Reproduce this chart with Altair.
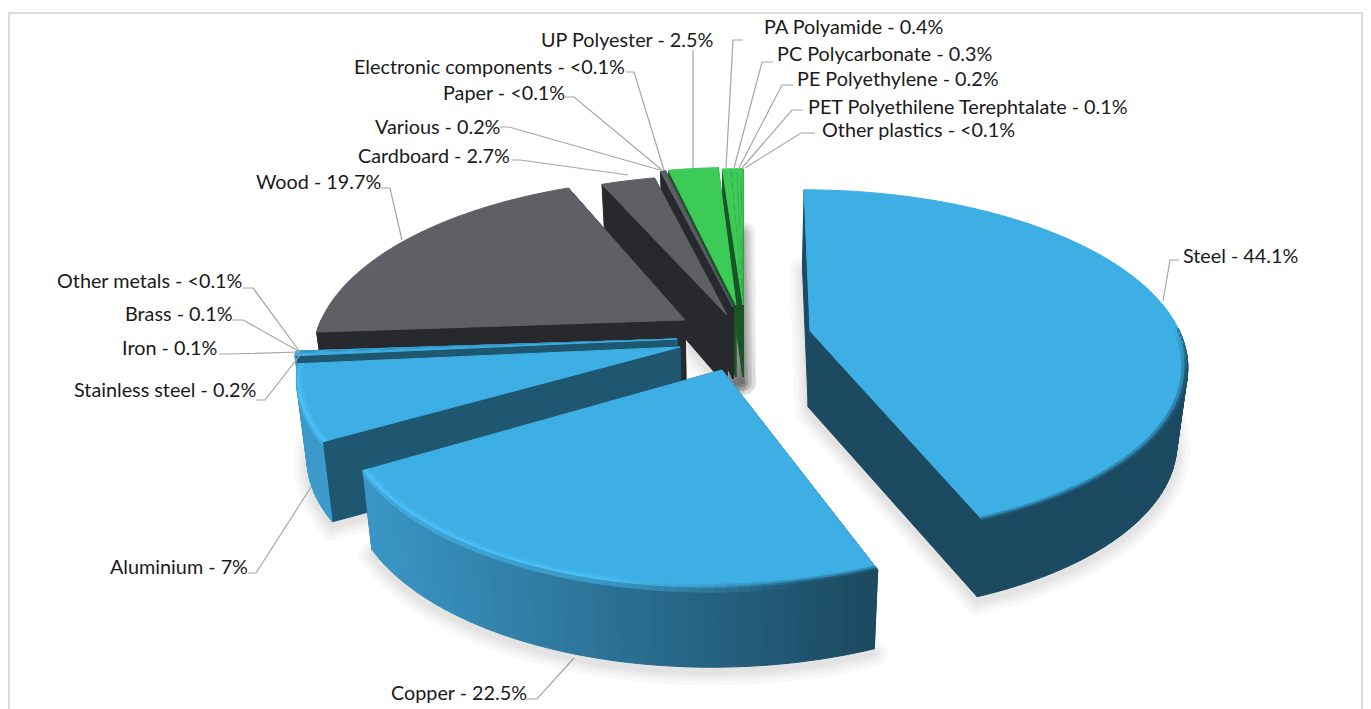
import math
import altair as alt
import pandas as pd

alt.data_transformers.disable_max_rows()

# ---------- data ----------
NAMES = ["Steel", "Copper", "Aluminium", "Stainless steel", "Iron", "Brass", "Other metals",
         "Wood", "Cardboard", "Various", "Paper", "Electronic components", "UP Polyester",
         "PA Polyamide", "PC Polycarbonate", "PE Polyethylene",
         "PET Polyethilene Terephtalate", "Other plastics"]
SHARES = [44.1, 22.5, 7.0, 0.2, 0.1, 0.1, 0.03, 19.7, 2.7, 0.2, 0.03, 0.03, 2.5, 0.4, 0.3, 0.2, 0.1, 0.03]
SHOWN = ["44.1%", "22.5%", "7%", "0.2%", "0.1%", "0.1%", "<0.1%", "19.7%", "2.7%", "0.2%",
         "<0.1%", "<0.1%", "2.5%", "0.4%", "0.3%", "0.2%", "0.1%", "<0.1%"]
FAMILY = ["metal"] * 7 + ["grey"] * 5 + ["green"] * 6

# ---------- layout and style ----------
W, H = 1355, 701
RX, RY, XV, TAPER = 377.0, 168.0, 735.0, 0.024
APEX = [(810, 331), (722, 370), (680, 347), (677, 339), (677, 339), (677, 339), (677, 339),
        (685, 320), (727, 315), (733, 307), (733, 307), (733, 307), (736, 305),
        (743, 305), (743, 305), (743, 305), (743, 305), (743, 305)]
KS = [0.19] + [0.184] * 17
RADIUS = [0.98, 0.99, 1, 1, 1, 1, 1, 0.965, 1, 1, 1, 1, 1, 1, 1, 1, 1, 1]
YFACTOR = [1.0, 1.06, 1, 1, 1, 1, 1, 1, 0.99, 0.98, 0.98, 0.98, 0.97, 0.96, 0.96, 0.96, 0.96, 0.96]
SHEAR = [0.042, -0.05, 0, 0, 0, 0, 0, -0.05, -0.02, -0.02, -0.02, -0.02, -0.02, 0, 0, 0, 0, 0]
DEPTH = [76, 79, 80] + [72] * 15
DEPTH_POWER = [0, 0, 0] + [1] * 15
TOP = {"metal": "#3DAFE4", "grey": "#5F6066", "green": "#3BCB56"}
SIDE = {"metal": "#1F5670", "grey": "#28292C", "green": "#1A5527"}
LABEL_X = [1183, 391, 110, 74, 122, 125, 57, 256, 358, 375, 443, 354, 541, 764, 777, 797, 808, 822]
LABEL_Y = [257, 694, 568, 391, 349, 315, 282, 183, 157, 128, 94, 68, 41, 28, 55, 80, 108, 131]
LEADERS = [
    [(1179, 260), (1170, 260), (1163, 301)],
    [(526, 699), (537, 699), (574, 658)],
    [(248, 573), (256, 573), (311, 487)],
    [(256, 400), (265, 400), (300, 355)],
    [(219, 354), (230, 354), (300, 352)],
    [(232, 320), (243, 320), (300, 352)],
    [(243, 288), (253, 288), (300, 352)],
    [(381, 188), (390, 188), (402, 240)],
    [(512, 160), (520, 160), (628, 175)],
    [(500, 127), (509, 127), (660, 170)],
    [(565, 97), (574, 97), (662, 170)],
    [(626, 72), (634, 72), (664, 170)],
    [(693, 50), (693, 168)],
    [(743, 40), (733, 40), (726, 168)],
    [(773, 62), (762, 62), (734, 168)],
    [(793, 85), (782, 85), (739, 168)],
    [(803, 110), (792, 110), (742, 168)],
    [(815, 133), (801, 133), (745, 168)],
]
FRAME = [(9, 709), (9, 13), (1362, 13), (1362, 709)]


def mix(a, b, t):
    t = max(0.0, min(1.0, t))
    ca = [int(a[i:i + 2], 16) for i in (1, 3, 5)]
    cb = [int(b[i:i + 2], 16) for i in (1, 3, 5)]
    return "#" + "".join(f"{round(p + (q - p) * t):02x}" for p, q in zip(ca, cb))


def wall_colour(x):
    return mix("#3C9ACB", "#1B4A61", (x - 340) / 530)


def rim_colour(x):
    return mix("#4BC4FB", wall_colour(x), (x - 600) / 200)


def point(i, deg, r=1.0, z=0.0):
    ax, ay = APEX[i]
    a = math.radians(deg)
    u, v = math.sin(a) * r * RADIUS[i], math.cos(a) * r
    s = 1 / (1 + KS[i] * v)
    dy = -RY * YFACTOR[i] * v * s
    x, y = ax + RX * u * s + SHEAR[i] * dy, ay + dy
    if z:
        x -= TAPER * z * (x - XV)
        y += DEPTH[i] * z * s ** DEPTH_POWER[i]
    return x, y


rows, shadow_rows = [], []
counter = [0]


def poly(points, fill):
    pid = f"p{counter[0]:05d}"
    counter[0] += 1
    for n, (x, y) in enumerate(points):
        rows.append({"poly": pid, "idx": n, "x": x, "y": y, "fill": fill})


def arc(start, end):
    steps = max(1, int((end - start) / 1.5))
    return [start + (end - start) * k / steps for k in range(steps + 1)]


starts, c = [], 0.0
total = sum(SHARES)
for s in SHARES:
    starts.append(c)
    c += s / total * 360

# shadows under the slices (the thinnest metal slivers cast none of their own)
for i, s in enumerate(SHARES):
    if 3 <= i <= 6:
        continue
    a, b = starts[i], starts[i] + s / total * 360
    pts = [point(i, 0, 0, 1)] + [point(i, d, 1, 1) for d in arc(a, b)]
    for n, (x, y) in enumerate(pts):
        shadow_rows.append({"poly": f"s{i:03d}", "idx": n, "x": x, "y": y + 5})

# back to front: plastics first, then paper group, metals, copper, steel
for i in list(range(17, 11, -1)) + [11, 10, 9, 8, 7, 6, 5, 4, 3, 2, 1, 0]:
    fam = FAMILY[i]
    a, b = starts[i], starts[i] + SHARES[i] / total * 360
    side = SIDE[fam]
    if i == 0:
        side = "#1B4A61"
    for d in (a, b):
        poly([point(i, 0, 0, 0), point(i, d, 1, 0), point(i, d, 1, 1), point(i, 0, 0, 1)], side)
    angs = arc(a, b)
    segs = [(p, q) for p, q in zip(angs, angs[1:]) if math.cos(math.radians((p + q) / 2)) < 0.02]
    segs.sort(key=lambda t: -math.cos(math.radians(t[0])))
    for p, q in segs:
        xm = point(i, (p + q) / 2, 1, 0)[0]
        col = wall_colour(xm) if fam == "metal" else side
        poly([point(i, p, 1, 0), point(i, q, 1, 0), point(i, q, 1, 1), point(i, p, 1, 1)], col)
    poly([point(i, 0, 0, 0)] + [point(i, d, 1, 0) for d in angs], TOP[fam])
    if fam == "metal" and b - a > 5:
        for p, q in segs:
            mid = (p + q) / 2
            xm = point(i, mid, 1, 0)[0]
            fade = max(0.0, min(1.0, (0.02 - math.cos(math.radians(mid))) / 0.25))
            hl = mix(TOP[fam], rim_colour(xm), fade)
            poly([point(i, p, 0.985), point(i, q, 0.985), point(i, q, 0.993), point(i, p, 0.993)],
                 mix(TOP[fam], hl, 0.4))
            poly([point(i, p, 0.993), point(i, q, 0.993), point(i, q, 1), point(i, p, 1)],
                 mix(TOP[fam], hl, 0.85))
            poly([point(i, p, 1), point(i, q, 1), point(i, q, 1, 0.05), point(i, p, 1, 0.05)],
                 mix(hl, wall_colour(xm), 0.55))

df = pd.DataFrame(rows)
shadow = pd.DataFrame(shadow_rows)
labels = pd.DataFrame({"x": LABEL_X, "y": LABEL_Y,
                       "text": [f"{n} - {v}" for n, v in zip(NAMES, SHOWN)]})
leaders = pd.DataFrame([{"id": f"l{i:02d}", "idx": n, "x": x, "y": y}
                        for i, pts in enumerate(LEADERS) for n, (x, y) in enumerate(pts)])
frame = pd.DataFrame([{"idx": n, "x": x, "y": y} for n, (x, y) in enumerate(FRAME)])

X = alt.X("x:Q", axis=None, scale=alt.Scale(domain=[8, 8 + W], nice=False, zero=False))
Y = alt.Y("y:Q", axis=None, scale=alt.Scale(domain=[8 + H, 8], nice=False, zero=False))

layers = [
    alt.Chart(frame).mark_line(stroke="#DCDCDC", strokeWidth=2).encode(x=X, y=Y, order="idx:Q")
]
for width in (26, 18, 11, 5):
    layers.append(
        alt.Chart(shadow).mark_line(interpolate="linear-closed", stroke="#000000", fill="#000000",
                                    strokeWidth=width, opacity=0.022, strokeJoin="round")
        .encode(x=X, y=Y, order="idx:Q", detail="poly:N")
    )
layers.append(
    alt.Chart(df).mark_line(interpolate="linear-closed", strokeWidth=1, strokeJoin="round")
    .encode(x=X, y=Y, order="idx:Q", detail="poly:N",
            fill=alt.Fill("fill:N", scale=None), stroke=alt.Stroke("fill:N", scale=None))
)
layers.append(
    alt.Chart(leaders).mark_line(stroke="#A6A6A6", strokeWidth=1.2)
    .encode(x=X, y=Y, order="idx:Q", detail="id:N")
)
layers.append(
    alt.Chart(labels).mark_text(align="left", baseline="middle", font="Lato", fontSize=19.8, color="#1A1A1A")
    .encode(x=X, y=Y, text="text:N")
)

chart = alt.layer(*layers).properties(
    width=W, height=H, padding=0, background="white",
    view=alt.ViewConfig(stroke=None), autosize=alt.AutoSizeParams(type="none")
)
chart.save("out.html", embed_options={"renderer": "svg", "actions": False})
